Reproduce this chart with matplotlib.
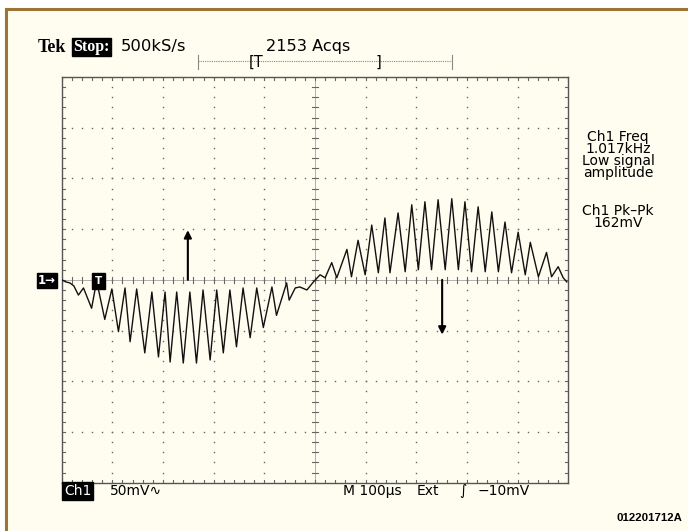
import matplotlib

matplotlib.use("Agg")

import matplotlib.pyplot as plt
import numpy as np
from matplotlib.lines import Line2D
from matplotlib.patches import Rectangle

# --- Trace readings: time from screen left (us), Ch1 voltage (mV) ---
t_us = [0, 8, 16, 24, 33, 43, 59, 69, 85, 99,
        112, 125, 135, 148, 164, 178, 191, 204, 214, 227,
        240, 253, 266, 279, 293, 306, 319, 332, 345, 358,
        372, 385, 398, 415, 424, 444, 449, 461, 470, 484,
        497, 510, 520, 533, 543, 563, 572, 585, 599, 612,
        625, 638, 648, 664, 678, 691, 704, 717, 730, 743,
        757, 770, 783, 796, 809, 822, 836, 849, 862, 875,
        888, 901, 915, 925, 941, 957, 967, 980, 990, 997]
v_mV = [0, -2, -3, -6, -15, -8, -28, -1, -39, -9,
        -51, -8, -61, -9, -72, -12, -76, -12, -81, -12,
        -82, -12, -82, -10, -79, -10, -72, -10, -66, -8,
        -57, -8, -47, -7, -35, -3, -20, -8, -7, -10,
        -2, 5, 2, 17, 2, 30, 3, 39, 5, 54,
        7, 61, 7, 66, 8, 74, 10, 77, 10, 79,
        10, 80, 10, 77, 8, 72, 8, 67, 8, 57,
        7, 47, 5, 37, 3, 27, 3, 13, 2, -2]

# arrows drawn on the screen (time, tip voltage)
arrow_t = [249, 751]
arrow_tip = [49, -54]

# readouts
top_labels = ["500kS/s", "2153 Acqs"]
freq_labels = ["Ch1 Freq", "1.017kHz", "Low signal", "amplitude"]
pk_labels = ["Ch1 Pk\u2013Pk", "162mV"]
bottom_labels = ["50mV\u223f", "M 100\u00b5s", "Ext", "\u222b", "\u221210mV"]
figure_code = "012201712A"

# --- Screen settings ---
US_PER_DIV = 100
MV_PER_DIV = 50
X_DIVS = 10
Y_DIVS = 8

W, H = 688, 531
BG = "#FFFDF0"
FRAME = "#9C7433"
DOT = "#666666"
FONT = "DejaVu Sans"


def fx(px):
    return px / W


def fy(py):
    return 1 - py / H


fig = plt.figure(figsize=(W / 100, H / 100), dpi=100)
fig.patch.set_facecolor("white")

# cream panel with brown frame, running off the right and bottom edges
fig.patches.append(Rectangle((fx(6), 0), 1, fy(9), transform=fig.transFigure,
                             facecolor=BG, edgecolor="none", zorder=-5))
fig.lines.append(Line2D([fx(6), fx(6)], [0, fy(9)], transform=fig.transFigure,
                        color=FRAME, lw=2.2, zorder=-4))
fig.lines.append(Line2D([fx(6), 1], [fy(9), fy(9)], transform=fig.transFigure,
                        color=FRAME, lw=2.2, zorder=-4))

# --- Graticule ---
L, R, T, B = 61.7, 568.3, 77.0, 482.7
ax = fig.add_axes([fx(L), fy(B), (R - L) / W, (B - T) / H], zorder=1)
ax.set_facecolor("none")
x_max = US_PER_DIV * X_DIVS
y_max = MV_PER_DIV * Y_DIVS / 2
ax.set_xlim(0, x_max)
ax.set_ylim(-y_max, y_max)
ax.set_xticks([])
ax.set_yticks([])
for sp in ax.spines.values():
    sp.set_color("#555555")
    sp.set_linewidth(1.0)

minor_x = np.arange(0, x_max + 1, US_PER_DIV / 5)
minor_y = np.arange(-y_max, y_max + 1, MV_PER_DIV / 5)

dot_kw = dict(ls="none", marker="s", ms=1.0, mew=0, color=DOT)
for k in range(1, X_DIVS):
    if k == X_DIVS // 2:
        continue
    ax.plot(np.full_like(minor_y, k * US_PER_DIV), minor_y, **dot_kw)
for k in range(1, Y_DIVS):
    if k == Y_DIVS // 2:
        continue
    yv = -y_max + k * MV_PER_DIV
    ax.plot(minor_x, np.full_like(minor_x, yv), **dot_kw)

# centre lines: fine dotted with minor ticks on both sides
ax.axhline(0, color=DOT, lw=0.72, ls=(0, (1, 1)))
ax.axvline(x_max / 2, color=DOT, lw=0.72, ls=(0, (1, 1)))
tick_kw = dict(color="#666666", lw=0.8)
for xv in minor_x:
    ax.plot([xv, xv], [-3, 3], **tick_kw)
    ax.plot([xv, xv], [y_max, y_max - 3], **tick_kw)
    ax.plot([xv, xv], [-y_max, -y_max + 3], **tick_kw)
for yv in minor_y:
    ax.plot([x_max / 2 - 6, x_max / 2 + 6], [yv, yv], **tick_kw)
    ax.plot([0, 6], [yv, yv], **tick_kw)
    ax.plot([x_max, x_max - 6], [yv, yv], **tick_kw)

# --- Trace ---
ax.plot(t_us, v_mV, color="#111111", lw=1.0, solid_joinstyle="round", zorder=5)

for xa, ya in zip(arrow_t, arrow_tip):
    ax.annotate("", xy=(xa, ya), xytext=(xa, 0),
                arrowprops=dict(arrowstyle="-|>", color="black", lw=1.5,
                                mutation_scale=11, shrinkA=0, shrinkB=0),
                zorder=6)

# ground marker "1->" and trigger marker "T"
fig.text(fx(38), fy(280.5), "1\u2192", color="white", fontsize=8.5, fontweight="bold",
         family=FONT, va="center", ha="left", zorder=3,
         bbox=dict(boxstyle="square,pad=0.12", fc="black", ec="black"))
fig.text(fx(98.5), fy(281), "T", color="white", fontsize=7.5, fontweight="bold",
         family=FONT, va="center", ha="center", zorder=3,
         bbox=dict(boxstyle="square,pad=0.25", fc="black", ec="black"))

# --- Top readouts ---
fig.text(fx(38), fy(47), "Tek", fontsize=13, fontweight="bold",
         family="Liberation Serif", va="center", ha="left")
fig.text(fx(73), fy(47), "Stop:", fontsize=11.5, fontweight="bold", color="white",
         family="Liberation Serif", va="center", ha="left",
         bbox=dict(boxstyle="square,pad=0.08", fc="black", ec="black"))
fig.text(fx(121), fy(46), top_labels[0], fontsize=11.8, family=FONT, va="center", ha="left")
fig.text(fx(266), fy(46), top_labels[1], fontsize=11.6, family=FONT, va="center", ha="left")

# trigger position bar
fig.lines.append(Line2D([fx(198), fx(452)], [fy(61), fy(61)], transform=fig.transFigure,
                        color="#888888", lw=0.8, ls=(0, (1, 1))))
for xb in (198, 452):
    fig.lines.append(Line2D([fx(xb), fx(xb)], [fy(55), fy(69)], transform=fig.transFigure,
                            color="#888888", lw=0.8))
fig.text(fx(249), fy(62), "[T", fontsize=10.5, family=FONT, va="center", ha="left")
fig.text(fx(376), fy(62), "]", fontsize=10.5, family=FONT, va="center", ha="left")

# --- Measurement panel ---
fig.text(fx(618), fy(130), "\n".join(freq_labels), fontsize=10, family=FONT,
         va="top", ha="center", linespacing=0.82)
fig.text(fx(618), fy(204), "\n".join(pk_labels), fontsize=10, family=FONT,
         va="top", ha="center", linespacing=0.82)

# --- Bottom readouts ---
fig.text(fx(64), fy(491), "Ch1", color="white", fontsize=10, family=FONT,
         va="center", ha="left",
         bbox=dict(boxstyle="square,pad=0.12", fc="black", ec="black"))
bottom_x = [110, 343, 417, 459, 478]
for txt, xx in zip(bottom_labels, bottom_x):
    fig.text(fx(xx), fy(491), txt, fontsize=10, family=FONT, va="center", ha="left")

fig.text(fx(682), fy(518), figure_code, fontsize=8.2, fontweight="bold",
         family="Liberation Sans", va="center", ha="right")

fig.savefig("out.png", dpi=100, facecolor=fig.get_facecolor())
